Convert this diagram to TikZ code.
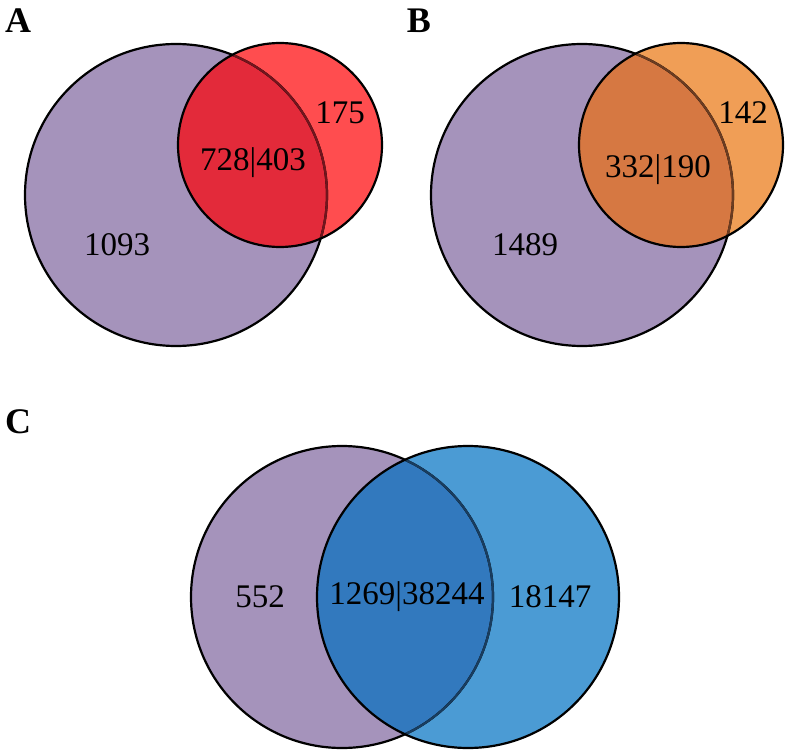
\documentclass[tikz,border=0pt]{standalone}
\usepackage{fontspec}
\setmainfont{Liberation Serif}
\begin{document}
\begin{tikzpicture}[x=1pt,y=-1pt,
  lbl/.style={font=\fontsize{33}{38}\selectfont, inner sep=0pt},
  panel/.style={font=\fontsize{36}{40}\selectfont\bfseries, inner sep=0pt},
  edge/.style={line width=2.2pt, draw=black}]
\definecolor{vpurple}{HTML}{A593BB}
\definecolor{vred}{HTML}{FF4D4F}
\definecolor{vredov}{HTML}{E32A3A}
\definecolor{vorange}{HTML}{F09E56}
\definecolor{vorangeov}{HTML}{D67842}
\definecolor{vblue}{HTML}{4B9BD4}
\definecolor{vblueov}{HTML}{3279BE}
\useasboundingbox (0,0) rectangle (787,754);
\fill[white] (0,0) rectangle (787,754);

% ---------- Panel A ----------
\coordinate (pA) at (176,195);
\coordinate (rA) at (280,145);
\fill[vpurple] (pA) circle[radius=151pt];
\fill[vred] (rA) circle[radius=102pt];
\begin{scope}
  \clip (pA) circle[radius=151pt];
  \fill[vredov] (rA) circle[radius=102pt];
\end{scope}
\draw[edge] (pA) circle[radius=151pt];
\begin{scope}
  \clip (rA) circle[radius=102pt];
  \draw[line width=2.2pt, draw=vredov!50!black] (pA) circle[radius=151pt];
\end{scope}
\draw[edge] (rA) circle[radius=102pt];
\node[lbl] (a1) at (340,113) {175};
\node[lbl] (a2) at (253,163) {728|403};
\node[lbl] (a3) at (117,245) {1093};
\node[panel] (A) at (18,21) {A};

% ---------- Panel B ----------
\coordinate (pB) at (582,195);
\coordinate (oB) at (681,145);
\fill[vpurple] (pB) circle[radius=151pt];
\fill[vorange] (oB) circle[radius=102pt];
\begin{scope}
  \clip (pB) circle[radius=151pt];
  \fill[vorangeov] (oB) circle[radius=102pt];
\end{scope}
\draw[edge] (pB) circle[radius=151pt];
\begin{scope}
  \clip (oB) circle[radius=102pt];
  \draw[line width=2.2pt, draw=vorangeov!50!black] (pB) circle[radius=151pt];
\end{scope}
\draw[edge] (oB) circle[radius=102pt];
\node[lbl] (b1) at (743,113) {142};
\node[lbl] (b2) at (658,170) {332|190};
\node[lbl] (b3) at (525,245) {1489};
\node[panel] (B) at (419,21) {B};

% ---------- Panel C ----------
\coordinate (pC) at (342,597);
\coordinate (bC) at (468,597);
\fill[vpurple] (pC) circle[radius=151pt];
\fill[vblue] (bC) circle[radius=151pt];
\begin{scope}
  \clip (pC) circle[radius=151pt];
  \fill[vblueov] (bC) circle[radius=151pt];
\end{scope}
\draw[edge] (pC) circle[radius=151pt];
\begin{scope}
  \clip (bC) circle[radius=151pt];
  \draw[line width=2.2pt, draw=vblueov!50!black] (pC) circle[radius=151pt];
\end{scope}
\draw[edge] (bC) circle[radius=151pt];
\node[lbl] (c1) at (260,597) {552};
\node[lbl] (c2) at (407,597) {1269|38244};
\node[lbl] (c3) at (550,597) {18147};
\node[panel] (C) at (18,422) {C};
\end{tikzpicture}
\end{document}
